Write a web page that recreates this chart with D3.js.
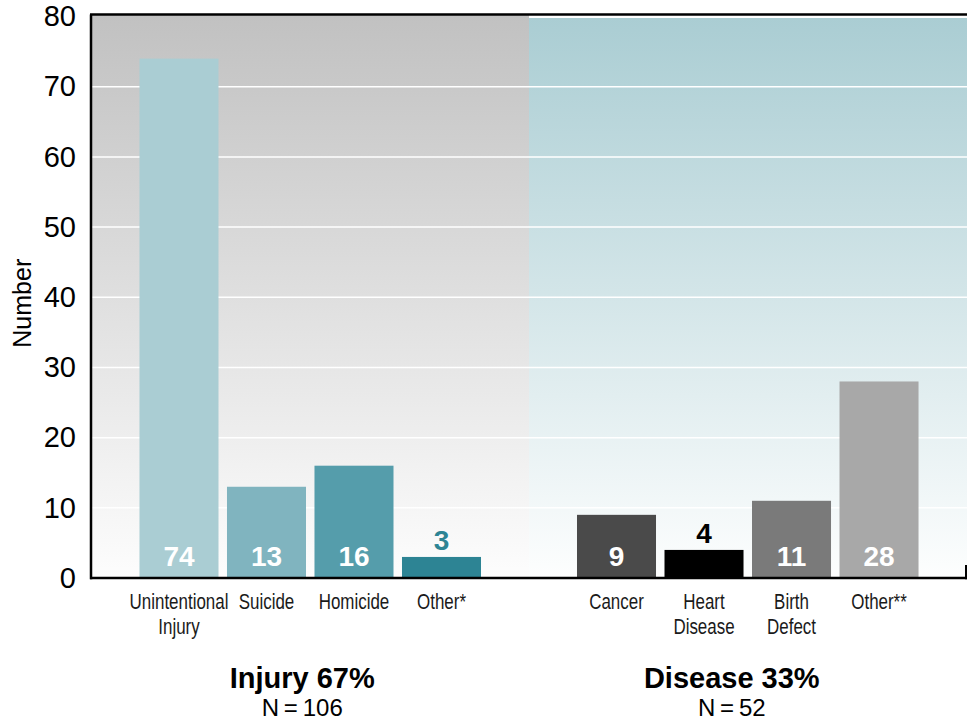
<!DOCTYPE html>
<html>
<head>
<meta charset="utf-8">
<script src="https://cdn.jsdelivr.net/npm/d3@7"></script>
<style>
  html, body { margin: 0; padding: 0; background: #fff; }
  svg { display: block; }
</style>
</head>
<body>
<svg id="chart" width="972" height="721"></svg>
<script>
// Causes of death, grouped into injury and disease
const categories = ["Unintentional\nInjury", "Suicide", "Homicide", "Other*", "", "Cancer", "Heart\nDisease", "Birth\nDefect", "Other**"];
const values = [74, 13, 16, 3, null, 9, 4, 11, 28];
const barColors = ["#aacdd3", "#80b4bf", "#559dab", "#2d8494", null, "#4a4a4a", "#000000", "#7a7a7a", "#a8a8a8"];
const yTicks = [0, 10, 20, 30, 40, 50, 60, 70, 80];
const groupTitles = ["Injury 67%", "Disease 33%"];
const groupCounts = ["N=106", "N=52"];

const svg = d3.select("#chart");
const plotLeft = 91, plotRight = 967, plotTop = 16.5, plotBottom = 578;
const sans = "Liberation Sans, Arial, sans-serif";

const x = d3.scaleBand()
  .domain(d3.range(categories.length))
  .range([plotLeft, plotRight])
  .paddingInner(0.097)
  .paddingOuter(0.554);

const y = d3.scaleLinear().domain([0, 80]).range([plotBottom, plotTop]);

const divider = x(4) + x.bandwidth() / 2;

// Panel gradients
const defs = svg.append("defs");
const gL = defs.append("linearGradient").attr("id", "gradL").attr("x1", 0).attr("y1", 0).attr("x2", 0).attr("y2", 1);
gL.append("stop").attr("offset", "0%").attr("stop-color", "#c1c1c1");
gL.append("stop").attr("offset", "100%").attr("stop-color", "#fdfdfd");
const gR = defs.append("linearGradient").attr("id", "gradR").attr("x1", 0).attr("y1", 0).attr("x2", 0).attr("y2", 1);
gR.append("stop").attr("offset", "0%").attr("stop-color", "#aacdd3");
gR.append("stop").attr("offset", "100%").attr("stop-color", "#fdfefe");

svg.append("rect").attr("x", plotLeft).attr("y", y(80) - 2).attr("width", divider - plotLeft).attr("height", plotBottom - y(80) + 2).attr("fill", "url(#gradL)");
svg.append("rect").attr("x", divider).attr("y", y(80) + 1.5).attr("width", plotRight - divider).attr("height", plotBottom - y(80) - 1.5).attr("fill", "url(#gradR)");

// Gridlines
svg.append("g").selectAll("line")
  .data(yTicks.filter(d => d > 0 && d < 80))
  .join("line")
  .attr("x1", plotLeft).attr("x2", plotRight)
  .attr("y1", d => y(d)).attr("y2", d => y(d))
  .attr("stroke", "#ffffff").attr("stroke-width", 1.5);

// Bars
const barData = categories.map((c, i) => ({ i, c, v: values[i], col: barColors[i] })).filter(d => d.v !== null);

svg.append("g").selectAll("rect")
  .data(barData)
  .join("rect")
  .attr("x", d => x(d.i))
  .attr("width", x.bandwidth())
  .attr("y", d => y(d.v))
  .attr("height", d => y(0) - y(d.v))
  .attr("fill", d => d.col);

// Value labels: inside the bar near its base, or above short bars
svg.append("g").selectAll("text")
  .data(barData)
  .join("text")
  .attr("x", d => x(d.i) + x.bandwidth() / 2)
  .attr("y", d => d.v < 6 ? y(d.v) - 7 : y(0) - 12)
  .attr("text-anchor", "middle")
  .attr("font-family", sans)
  .attr("font-weight", "bold")
  .attr("font-size", 28)
  .attr("fill", d => d.v < 6 ? d.col : "#ffffff")
  .text(d => d.v);

// Axes frame
const frame = svg.append("g").attr("stroke", "#000").attr("fill", "none");
frame.append("line").attr("x1", plotLeft).attr("x2", plotLeft).attr("y1", y(80) - 2).attr("y2", plotBottom + 1.2).attr("stroke-width", 2.5);
frame.append("line").attr("x1", plotLeft - 1).attr("x2", plotRight).attr("y1", plotBottom).attr("y2", plotBottom).attr("stroke-width", 2.5);
frame.append("line").attr("x1", plotLeft - 1).attr("x2", plotRight).attr("y1", y(80) - 2).attr("y2", y(80) - 2).attr("stroke-width", 2.5);
frame.append("line").attr("x1", plotRight - 1).attr("x2", plotRight - 1).attr("y1", plotBottom - 13).attr("y2", plotBottom + 1.2).attr("stroke-width", 2);

// Y axis tick labels
const yAxis = d3.axisLeft(y).tickValues(yTicks).tickSize(0).tickPadding(15);
const ya = svg.append("g").attr("transform", `translate(${plotLeft},0)`).call(yAxis);
ya.select(".domain").remove();
ya.selectAll("text")
  .attr("font-family", sans)
  .attr("font-size", 29)
  .attr("fill", "#000");

svg.append("text")
  .attr("transform", `translate(31,${(plotTop + plotBottom) / 2 + 6}) rotate(-90)`)
  .attr("text-anchor", "middle")
  .attr("font-family", sans)
  .attr("font-size", 25)
  .attr("fill", "#000")
  .text("Number");

// Category labels (may span two lines), drawn narrow
const catG = svg.append("g");
categories.forEach((c, i) => {
  if (!c) return;
  const cx = x(i) + x.bandwidth() / 2;
  const t = catG.append("text")
    .attr("transform", `translate(${cx},0) scale(0.77,1)`)
    .attr("text-anchor", "middle")
    .attr("font-family", sans)
    .attr("font-size", 22)
    .attr("fill", "#1a1a1a");
  c.split("\n").forEach((line, k) => {
    t.append("tspan")
      .attr("x", 0)
      .attr("y", 609 + k * 25)
      .text(line);
  });
});

// Group summaries
const groupCenters = [
  (x(0) + x(3) + x.bandwidth()) / 2 - 8,
  (x(5) + x(8) + x.bandwidth()) / 2 - 16
];
groupTitles.forEach((g, k) => {
  svg.append("text")
    .attr("x", groupCenters[k]).attr("y", 688)
    .attr("text-anchor", "middle")
    .attr("font-family", sans)
    .attr("font-weight", "bold")
    .attr("font-size", 29)
    .attr("fill", "#000")
    .text(g);
  svg.append("text")
    .attr("x", groupCenters[k]).attr("y", 716)
    .attr("text-anchor", "middle")
    .attr("font-family", sans)
    .attr("font-size", 24)
    .attr("fill", "#000")
    .text(groupCounts[k].replace("=", "\u2009=\u2009"));
});
</script>
</body>
</html>
